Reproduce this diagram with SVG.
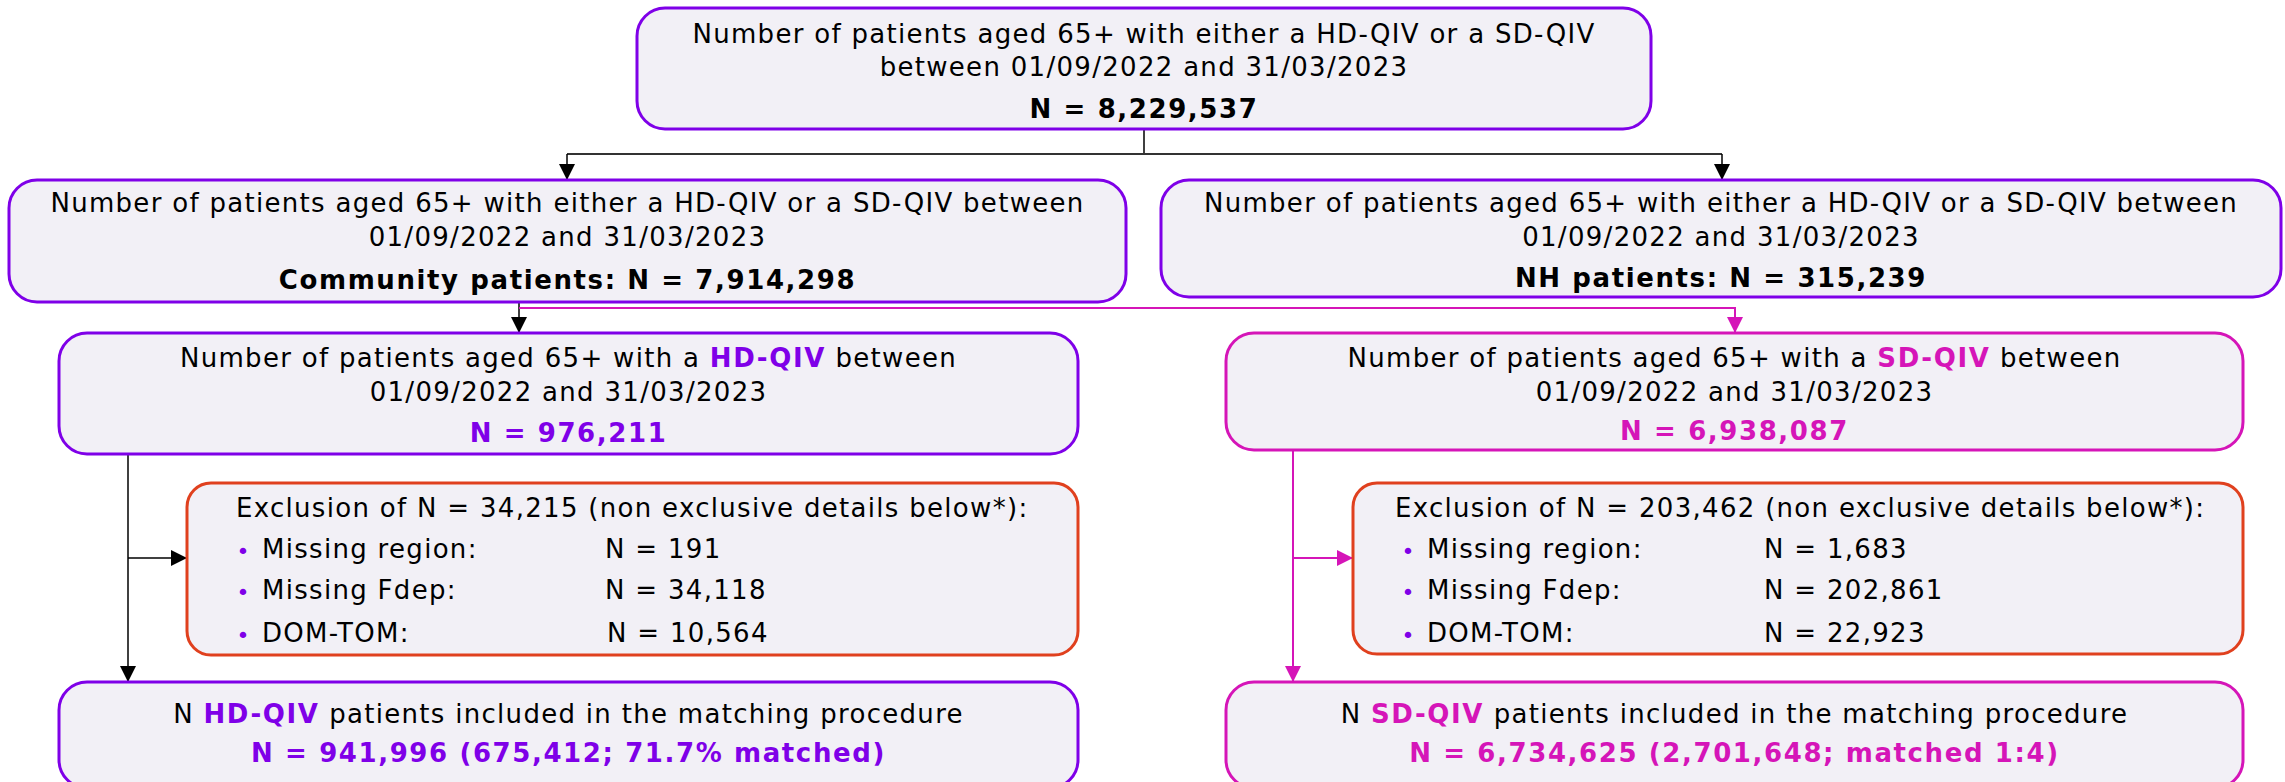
<svg xmlns="http://www.w3.org/2000/svg" width="2285" height="782" viewBox="0 0 2285 782">
<defs>
<style>
.box{fill:#F2F0F6;stroke-width:3}
.pu{stroke:#7F00E8}
.pk{stroke:#D515B8}
.ex{stroke:#E0401E}
text{font-family:"DejaVu Sans",Verdana,sans-serif;font-size:26px;letter-spacing:1.3px;fill:#000}
.c{text-anchor:middle}
.b{font-weight:bold;letter-spacing:1.6px}
.tpu{fill:#7F00E8}
.tpk{fill:#D515B8}
.bul{fill:#7F00E8;font-size:22px;letter-spacing:0;text-anchor:middle}
.ln{fill:none;stroke:#000;stroke-width:1.5}
.lnp{fill:none;stroke:#D515B8;stroke-width:2}
</style>
<marker id="ab" markerUnits="userSpaceOnUse" markerWidth="16" markerHeight="16" viewBox="0 0 16 16" refX="15" refY="8" orient="auto"><path d="M0,0 L16,8 L0,16 Z" fill="#000"/></marker>
<marker id="ap" markerUnits="userSpaceOnUse" markerWidth="16" markerHeight="16" viewBox="0 0 16 16" refX="15" refY="8" orient="auto"><path d="M0,0 L16,8 L0,16 Z" fill="#D515B8"/></marker>
</defs>
<g id="connectors">
<path class="ln" d="M1144,129 V154"/>
<path class="ln" d="M567,154 H1722" style="stroke:#333;stroke-width:2"/>
<path class="ln" d="M567,154 V179" marker-end="url(#ab)"/>
<path class="ln" d="M1722,154 V179" marker-end="url(#ab)"/>
<path class="ln" d="M519,302 V332" marker-end="url(#ab)"/>
<path class="lnp" d="M519,308 H1735 V332" marker-end="url(#ap)"/>
<path class="ln" d="M128,454 V681" marker-end="url(#ab)"/>
<path class="ln" d="M128,558 H186" marker-end="url(#ab)"/>
<path class="lnp" d="M1293,450 V681" marker-end="url(#ap)"/>
<path class="lnp" d="M1293,558 H1352" marker-end="url(#ap)"/>
</g>
<g id="n-total">
<rect class="box pu" x="637" y="8" width="1014" height="121" rx="28"/>
<text class="c" x="1144" y="43">Number of patients aged 65+ with either a HD-QIV or a SD-QIV</text>
<text class="c" x="1144" y="76">between 01/09/2022 and 31/03/2023</text>
<text class="c b" x="1144" y="118">N = 8,229,537</text>
</g>
<g id="n-community">
<rect class="box pu" x="9" y="180" width="1117" height="122" rx="28"/>
<text class="c" x="567.5" y="212">Number of patients aged 65+ with either a HD-QIV or a SD-QIV between</text>
<text class="c" x="567.5" y="246">01/09/2022 and 31/03/2023</text>
<text class="c b" x="567.5" y="289">Community patients: N = 7,914,298</text>
</g>
<g id="n-nh">
<rect class="box pu" x="1161" y="180" width="1120" height="117" rx="28"/>
<text class="c" x="1721" y="212">Number of patients aged 65+ with either a HD-QIV or a SD-QIV between</text>
<text class="c" x="1721" y="246">01/09/2022 and 31/03/2023</text>
<text class="c b" x="1721" y="287">NH patients: N = 315,239</text>
</g>
<g id="n-hd">
<rect class="box pu" x="59" y="333" width="1019" height="121" rx="28"/>
<text class="c" x="568.5" y="367">Number of patients aged 65+ with a <tspan class="b tpu">HD-QIV</tspan> between</text>
<text class="c" x="568.5" y="401">01/09/2022 and 31/03/2023</text>
<text class="c b tpu" x="568.5" y="442">N = 976,211</text>
</g>
<g id="n-sd">
<rect class="box pk" x="1226" y="333" width="1017" height="117" rx="28"/>
<text class="c" x="1734.5" y="367">Number of patients aged 65+ with a <tspan class="b tpk">SD-QIV</tspan> between</text>
<text class="c" x="1734.5" y="401">01/09/2022 and 31/03/2023</text>
<text class="c b tpk" x="1734.5" y="440">N = 6,938,087</text>
</g>
<g id="n-excl-hd">
<rect class="box ex" x="187" y="483" width="891" height="172" rx="24"/>
<text x="236" y="517">Exclusion of N = 34,215 (non exclusive details below*):</text>
<text class="bul" x="243" y="559">•</text><text x="262" y="558">Missing region:</text><text x="605" y="558">N = 191</text>
<text class="bul" x="243" y="600">•</text><text x="262" y="599">Missing Fdep:</text><text x="605" y="599">N = 34,118</text>
<text class="bul" x="243" y="643">•</text><text x="262" y="642">DOM-TOM:</text><text x="607" y="642">N = 10,564</text>
</g>
<g id="n-excl-sd">
<rect class="box ex" x="1353" y="483" width="890" height="171" rx="24"/>
<text x="1395" y="517">Exclusion of N = 203,462 (non exclusive details below*):</text>
<text class="bul" x="1408" y="559">•</text><text x="1427" y="558">Missing region:</text><text x="1764" y="558">N = 1,683</text>
<text class="bul" x="1408" y="600">•</text><text x="1427" y="599">Missing Fdep:</text><text x="1764" y="599">N = 202,861</text>
<text class="bul" x="1408" y="643">•</text><text x="1427" y="642">DOM-TOM:</text><text x="1764" y="642">N = 22,923</text>
</g>
<g id="n-final-hd">
<rect class="box pu" x="59" y="682" width="1019" height="106" rx="28"/>
<text class="c" x="568.5" y="723">N <tspan class="b tpu">HD-QIV</tspan> patients included in the matching procedure</text>
<text class="c b tpu" x="568.5" y="762">N = 941,996 (675,412; 71.7% matched)</text>
</g>
<g id="n-final-sd">
<rect class="box pk" x="1226" y="682" width="1017" height="106" rx="28"/>
<text class="c" x="1734.5" y="723">N <tspan class="b tpk">SD-QIV</tspan> patients included in the matching procedure</text>
<text class="c b tpk" x="1734.5" y="762">N = 6,734,625 (2,701,648; matched 1:4)</text>
</g>
</svg>
